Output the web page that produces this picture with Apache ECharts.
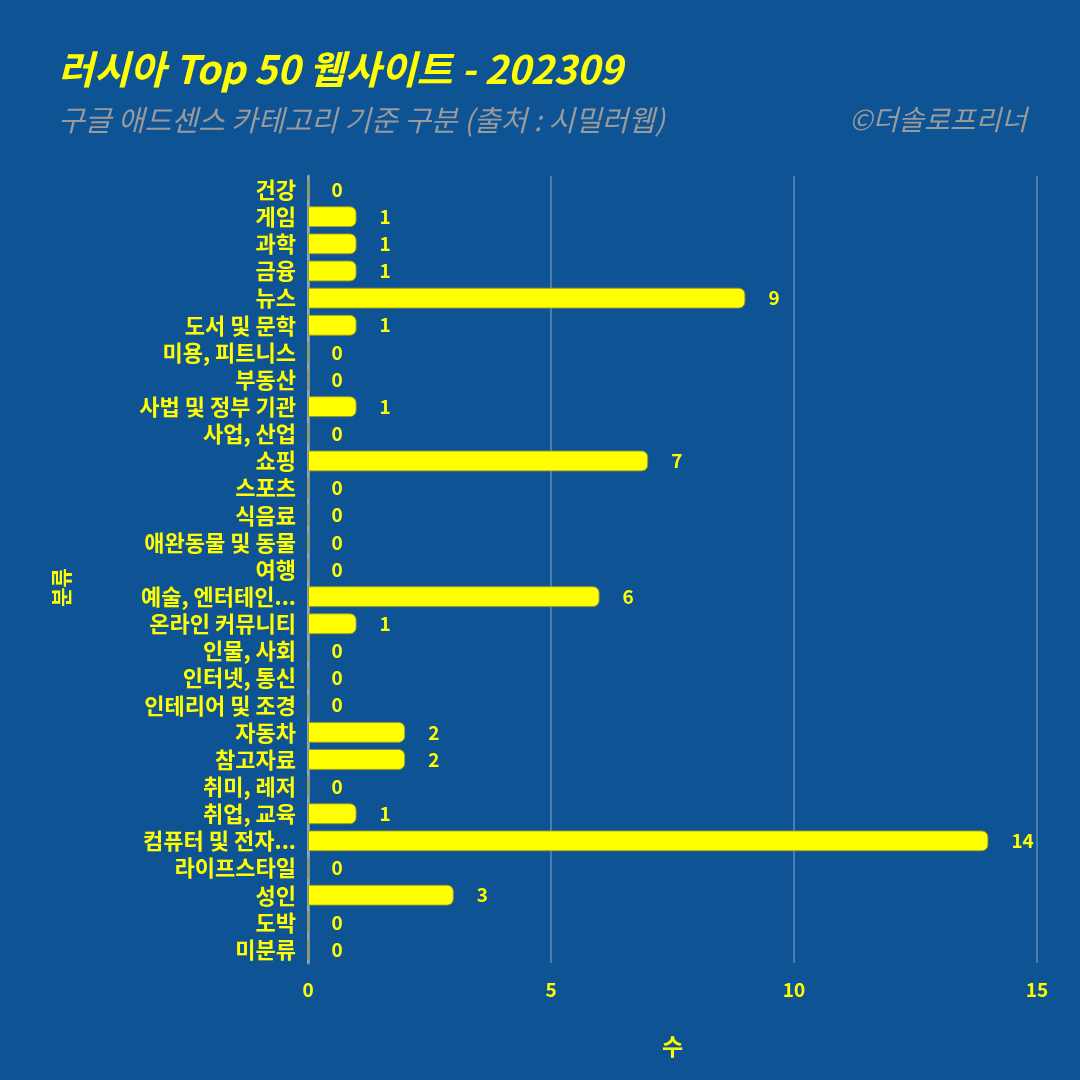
<!DOCTYPE html>
<html><head><meta charset="utf-8">
<script src="https://cdn.jsdelivr.net/npm/echarts@6/dist/echarts.min.js"></script>
<style>html,body{margin:0;padding:0;background:#0E5394;}#c{width:1080px;height:1080px;}</style>
</head><body><div id="c"></div>
<script>
const categories = ["건강","게임","과학","금융","뉴스","도서 및 문학","미용, 피트니스","부동산","사법 및 정부 기관","사업, 산업","쇼핑","스포츠","식음료","애완동물 및 동물","여행","예술, 엔터테인...","온라인 커뮤니티","인물, 사회","인터넷, 통신","인테리어 및 조경","자동차","참고자료","취미, 레저","취업, 교육","컴퓨터 및 전자...","라이프스타일","성인","도박","미분류"];
const values = [0,1,1,1,9,1,0,0,1,0,7,0,0,0,0,6,1,0,0,0,2,2,0,1,14,0,3,0,0];
const xTicks = [0,5,10,15];
const titleText = "러시아 Top 50 웹사이트 - 202309";
const subtitleText = "구글 애드센스 카테고리 기준 구분 (출처 : 시밀러웹)";
const creditText = "©더솔로프리너";

const FONT = '"Noto Sans CJK KR", "Noto Sans", sans-serif';
const chart = echarts.init(document.getElementById('c'), null, {renderer:'canvas'});
chart.setOption({
  backgroundColor: '#0E5394',
  animation: false,
  title: [
    {text: titleText, left: 53, top: 45, textStyle:{color:'#FFFF00', fontSize:39, fontWeight:'bold', fontStyle:'italic', fontFamily: FONT}},
    {text: subtitleText, left: 53, top: 100, textStyle:{color:'#9A9A9A', fontSize:29, fontWeight:'normal', fontStyle:'italic', fontFamily: FONT}},
    {text: creditText, right: 48, top: 100, textStyle:{color:'#9A9A9A', fontSize:28, fontWeight:'normal', fontStyle:'italic', fontFamily: FONT}}
  ],
  grid: {left: 308, right: 43, top: 176, bottom: 117, containLabel: false},
  xAxis: {
    type: 'value', min: xTicks[0], max: xTicks[xTicks.length-1], interval: 5,
    name: '수', nameLocation: 'middle', nameGap: 72,
    nameTextStyle: {color:'#FFFF00', fontSize:23, fontWeight:'bold', fontFamily: FONT},
    axisLine: {show:false}, axisTick: {show:false},
    axisLabel: {color:'#FFFF00', fontSize:19, fontWeight:'bold', fontFamily: FONT, margin: 17},
    splitLine: {show:true, lineStyle:{color:'rgba(255,255,255,0.25)', width:2}}
  },
  yAxis: {
    type: 'category', data: categories, inverse: true,
    name: '분류', nameLocation: 'middle', nameGap: 236, nameRotate: 90,
    nameTextStyle: {color:'#FFFF00', fontSize:21, fontWeight:'bold', fontFamily: FONT, padding:[0,36,0,0]},
    axisLine: {show:true, lineStyle:{color:'rgba(200,200,200,0.55)', width:3}},
    axisTick: {show:false},
    axisLabel: {color:'#FFFF00', fontSize:22, fontWeight:'bold', fontFamily: FONT, margin: 12, interval: 0},
    splitLine: {show:false}
  },
  series: [{
    type: 'bar', data: values, barCategoryGap: '23%',
    itemStyle: {color:'#FFFF00', borderColor:'rgba(150,150,40,0.9)', borderWidth:1, borderRadius:[0,6,6,0]},
    label: {show:true, position:'right', distance: 23, color:'#FFFF00', fontSize:19, fontWeight:'bold', fontFamily: FONT}
  }]
});
</script></body></html>
